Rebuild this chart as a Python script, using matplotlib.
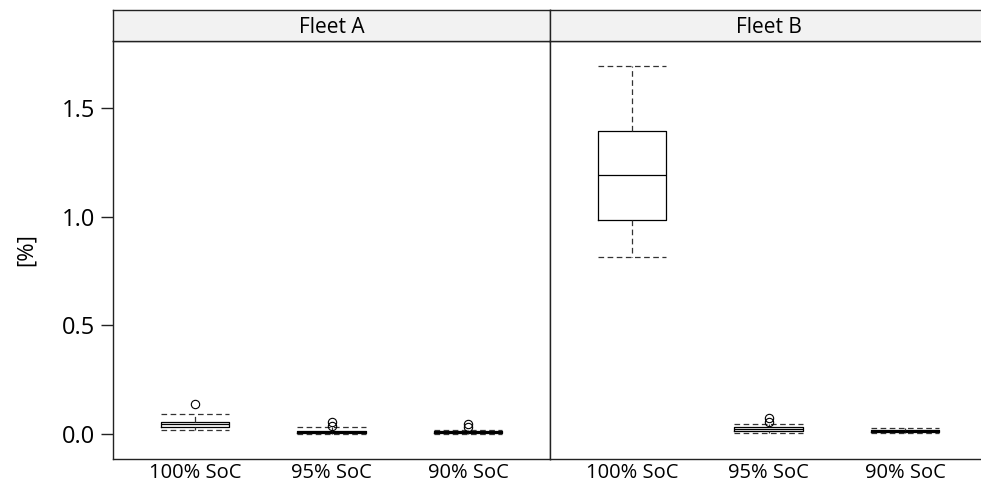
import matplotlib
matplotlib.use("Agg")
import matplotlib.pyplot as plt

plt.rcParams['font.family'] = ['Open Sans', 'DejaVu Sans']

categories = ["100% SoC", "95% SoC", "90% SoC"]
panels = ["Fleet A", "Fleet B"]

# summary stats per panel: [100%, 95%, 90%]
fleetA_whislo = [0.018, 0.000, 0.001]
fleetA_q1     = [0.032, 0.006, 0.005]
fleetA_med    = [0.045, 0.010, 0.008]
fleetA_q3     = [0.055, 0.016, 0.012]
fleetA_whishi = [0.092, 0.031, 0.018]
fleetA_fliers = [[0.138], [0.037, 0.055], [0.030, 0.045]]

fleetB_whislo = [0.815, 0.003, 0.005]
fleetB_q1     = [0.985, 0.016, 0.008]
fleetB_med    = [1.190, 0.022, 0.012]
fleetB_q3     = [1.394, 0.031, 0.018]
fleetB_whishi = [1.695, 0.046, 0.026]
fleetB_fliers = [[], [0.057, 0.075], []]

data = {
    "Fleet A": (fleetA_whislo, fleetA_q1, fleetA_med, fleetA_q3, fleetA_whishi, fleetA_fliers),
    "Fleet B": (fleetB_whislo, fleetB_q1, fleetB_med, fleetB_q3, fleetB_whishi, fleetB_fliers),
}

W, H = 981, 490
fig = plt.figure(figsize=(W / 100, H / 100), dpi=100)

left_px = 113
panel_w = 437
top_px = 41
bot_px = 459
strip_top = 10

frame_col = "#222222"
dash = (0, (4.5, 2.8))

for i, name in enumerate(panels):
    x0 = left_px + i * panel_w
    ax = fig.add_axes([x0 / W, 1 - bot_px / H, panel_w / W, (bot_px - top_px) / H])
    wl, q1, md, q3, wh, fl = data[name]
    stats = []
    for k in range(len(categories)):
        stats.append(dict(whislo=wl[k], q1=q1[k], med=md[k], q3=q3[k], whishi=wh[k], fliers=fl[k]))
    ax.bxp(stats, positions=[1, 2, 3], widths=0.5, capwidths=0.5, showfliers=True,
           boxprops=dict(color="black", linewidth=0.9),
           medianprops=dict(color="black", linewidth=0.9),
           whiskerprops=dict(color="#333333", linewidth=0.9, linestyle=dash),
           capprops=dict(color="#333333", linewidth=0.9, linestyle=dash),
           flierprops=dict(marker="o", markersize=6, markerfacecolor="none",
                           markeredgecolor="black", markeredgewidth=0.8))
    ax.set_xlim(0.4, 3.6)
    ax.set_ylim(-0.115, 1.809)
    ax.set_xticks([1, 2, 3])
    ax.set_xticklabels(categories, fontsize=14.5)
    ax.tick_params(axis="x", length=0, pad=3)
    for s in ax.spines.values():
        s.set_color(frame_col)
        s.set_linewidth(1.0)
    if i == 0:
        ax.set_yticks([0.0, 0.5, 1.0, 1.5])
        ax.set_yticklabels(["0.0", "0.5", "1.0", "1.5"], fontsize=17)
        ax.tick_params(axis="y", length=9, width=1.0, color=frame_col, pad=4)
        ax.set_ylabel("[%]", fontsize=16, labelpad=18)
    else:
        ax.set_yticks([])
        ax.spines["right"].set_visible(False)
    # strip
    sax = fig.add_axes([x0 / W, 1 - top_px / H, panel_w / W, (top_px - strip_top) / H])
    sax.set_xlim(0, 1)
    sax.set_ylim(0, 1)
    sax.set_facecolor("#f2f2f2")
    sax.set_xticks([])
    sax.set_yticks([])
    for s in sax.spines.values():
        s.set_color(frame_col)
        s.set_linewidth(1.0)
    if i == 1:
        sax.spines["right"].set_visible(False)
    sax.text(0.5, 0.45, name, ha="center", va="center", fontsize=15)

fig.savefig("out.png", dpi=100)
